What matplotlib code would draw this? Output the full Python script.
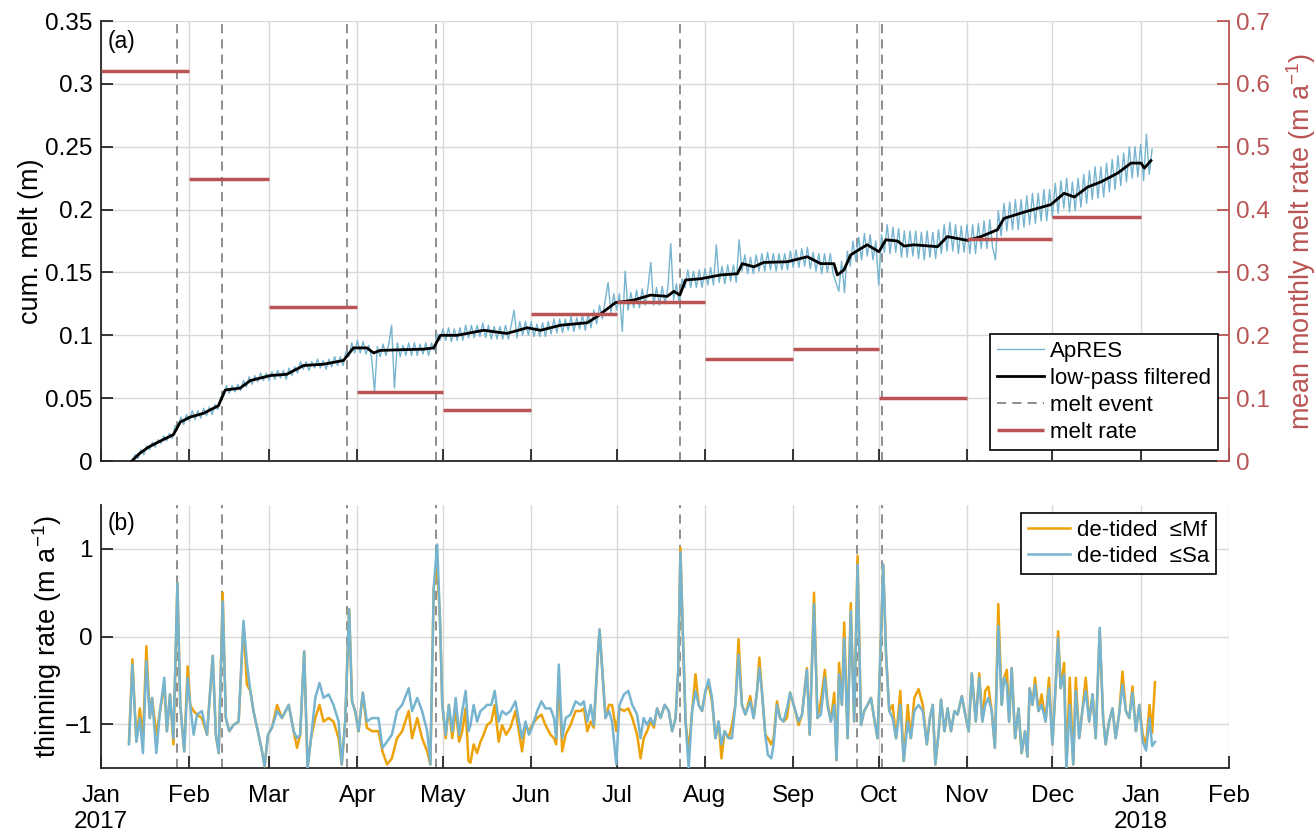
import numpy as np
import pandas as pd
import matplotlib
matplotlib.use('Agg')
import matplotlib.pyplot as plt

# ---- data (x in days since 1 Jan 2017) ----
# ApRES cumulative melt, resampled daily, starting day 11
apres_start = 11
apres_melt = [
    0.001, 0.005, 0.002, 0.009, 0.005, 0.012, 0.009, 0.015, 0.011, 0.017,
    0.014, 0.020, 0.016, 0.022, 0.018, 0.028, 0.027, 0.035, 0.029, 0.037,
    0.032, 0.040, 0.033, 0.040, 0.034, 0.042, 0.036, 0.043, 0.037, 0.045,
    0.041, 0.051, 0.052, 0.060, 0.054, 0.060, 0.055, 0.061, 0.056, 0.064,
    0.059, 0.067, 0.061, 0.068, 0.063, 0.070, 0.064, 0.070, 0.064, 0.071,
    0.065, 0.072, 0.066, 0.072, 0.065, 0.074, 0.068, 0.075, 0.070, 0.079,
    0.073, 0.079, 0.072, 0.079, 0.074, 0.081, 0.074, 0.080, 0.073, 0.081,
    0.075, 0.083, 0.076, 0.083, 0.076, 0.087, 0.083, 0.094, 0.086, 0.096,
    0.086, 0.095, 0.085, 0.092, 0.082, 0.055, 0.091, 0.083, 0.093, 0.084,
    0.093, 0.108, 0.058, 0.094, 0.083, 0.092, 0.084, 0.094, 0.084, 0.094,
    0.084, 0.093, 0.085, 0.094, 0.084, 0.094, 0.088, 0.101, 0.096, 0.105,
    0.096, 0.106, 0.095, 0.105, 0.096, 0.106, 0.096, 0.108, 0.098, 0.108,
    0.098, 0.108, 0.099, 0.110, 0.098, 0.108, 0.097, 0.107, 0.097, 0.107,
    0.097, 0.108, 0.097, 0.108, 0.120, 0.098, 0.111, 0.100, 0.111, 0.100,
    0.111, 0.099, 0.109, 0.099, 0.110, 0.099, 0.111, 0.101, 0.113, 0.102,
    0.113, 0.102, 0.113, 0.104, 0.115, 0.103, 0.114, 0.105, 0.116, 0.104,
    0.117, 0.106, 0.120, 0.109, 0.124, 0.113, 0.128, 0.142, 0.118, 0.133,
    0.120, 0.133, 0.103, 0.151, 0.120, 0.134, 0.122, 0.136, 0.122, 0.137,
    0.124, 0.138, 0.158, 0.124, 0.138, 0.124, 0.139, 0.125, 0.138, 0.173,
    0.128, 0.141, 0.125, 0.145, 0.138, 0.152, 0.138, 0.151, 0.138, 0.152,
    0.138, 0.153, 0.140, 0.154, 0.140, 0.172, 0.142, 0.155, 0.141, 0.156,
    0.143, 0.156, 0.142, 0.176, 0.151, 0.164, 0.149, 0.162, 0.149, 0.164,
    0.151, 0.165, 0.151, 0.166, 0.152, 0.165, 0.151, 0.165, 0.152, 0.165,
    0.152, 0.167, 0.154, 0.168, 0.154, 0.169, 0.155, 0.170, 0.153, 0.166,
    0.151, 0.165, 0.149, 0.165, 0.150, 0.165, 0.149, 0.142, 0.135, 0.159,
    0.134, 0.167, 0.155, 0.175, 0.159, 0.178, 0.160, 0.181, 0.163, 0.180,
    0.160, 0.175, 0.140, 0.180, 0.166, 0.188, 0.165, 0.186, 0.166, 0.185,
    0.162, 0.183, 0.162, 0.183, 0.163, 0.183, 0.161, 0.182, 0.160, 0.183,
    0.162, 0.182, 0.161, 0.184, 0.165, 0.188, 0.167, 0.190, 0.167, 0.188,
    0.165, 0.187, 0.166, 0.188, 0.165, 0.188, 0.165, 0.189, 0.169, 0.191,
    0.169, 0.192, 0.170, 0.160, 0.199, 0.179, 0.205, 0.183, 0.206, 0.184,
    0.208, 0.184, 0.208, 0.186, 0.211, 0.188, 0.213, 0.189, 0.213, 0.191,
    0.216, 0.191, 0.216, 0.194, 0.221, 0.197, 0.223, 0.201, 0.225, 0.198,
    0.222, 0.199, 0.225, 0.202, 0.228, 0.205, 0.231, 0.208, 0.234, 0.209,
    0.234, 0.210, 0.237, 0.214, 0.240, 0.216, 0.243, 0.219, 0.245, 0.222,
    0.250, 0.225, 0.250, 0.226, 0.252, 0.223, 0.260, 0.228, 0.248,
]

lp_days = [10.8, 13.5, 16.6, 20, 25.4, 27.8, 31.3, 36, 41.2, 43.6,
           48.8, 52.4, 59.4, 65.2, 71.1, 78.1, 85.1, 88.6, 93.3, 95.7,
           98, 105, 113.3, 116.8, 119.1, 125, 134.3, 142.5, 149.6, 154.3,
           161.3, 170.7, 174.2, 180.6, 187, 192.9, 198.8, 201.1, 203.2, 205.2,
           210.5, 217.5, 223.4, 225.1, 229.2, 232.7, 240.9, 248, 252.6, 257.3,
           258.5, 260.8, 263.2, 266.7, 269, 273.1, 275.5, 279.6, 281.9, 285.4,
           293.7, 297.1, 304.2, 308.9, 314.7, 317, 324.1, 333.5, 338.1, 341.7,
           346.4, 351, 356.9, 361.6, 365.1, 366.3, 368.6]
lp_melt = [0.000, 0.006, 0.011, 0.015, 0.021, 0.031, 0.035, 0.038, 0.044, 0.0565,
           0.058, 0.064, 0.068, 0.069, 0.076, 0.077, 0.080, 0.090, 0.090, 0.086,
           0.088, 0.0885, 0.089, 0.090, 0.100, 0.100, 0.104, 0.1015, 0.106, 0.104,
           0.108, 0.110, 0.115, 0.126, 0.128, 0.132, 0.131, 0.135, 0.132, 0.144,
           0.145, 0.148, 0.149, 0.157, 0.1545, 0.158, 0.1585, 0.1625, 0.157, 0.157,
           0.148, 0.152, 0.164, 0.169, 0.172, 0.1665, 0.176, 0.175, 0.171, 0.172,
           0.1705, 0.1785, 0.1755, 0.1785, 0.184, 0.193, 0.198, 0.204, 0.213, 0.210,
           0.218, 0.222, 0.229, 0.237, 0.237, 0.233, 0.239]

# mean monthly melt rate (m/a), Jan..Dec 2017
melt_rate = [0.620, 0.449, 0.245, 0.110, 0.081, 0.234,
             0.2525, 0.163, 0.178, 0.1007, 0.354, 0.389]

# melt events (days)
event_days = [26.5, 42.6, 86.5, 117.5, 203.2, 265.3, 274.2]

# thinning rate (m/a)
tr_days = [
    9.8, 11.0, 12.4, 13.6, 14.7, 15.9, 17.1, 17.9, 19.4, 20.7,
    22.2, 23.1, 24.2, 25.4, 26.8, 27.8, 29.2, 30.4, 31.3, 32.5,
    33.7, 35.4, 37.2, 39.2, 40.3, 41.3, 42.7, 43.8, 45.0, 46.5,
    48.3, 50.0, 51.2, 52.4, 53.5, 55.3, 56.5, 57.4, 58.6, 60.0,
    61.8, 63.5, 65.9, 67.6, 68.8, 69.9, 71.3, 72.5, 73.7, 75.2,
    76.7, 78.1, 79.9, 81.6, 83.4, 84.5, 85.7, 87.1, 88.1, 89.2,
    90.4, 91.9, 93.3, 95.1, 97.4, 98.8, 100.4, 102.1, 103.9, 105.7,
    108.0, 109.2, 111.0, 112.7, 114.5, 115.6, 116.8, 118.0, 119.0, 119.8,
    121.0, 122.1, 123.3, 124.5, 125.7, 126.8, 128.0, 129.0, 129.7, 130.8,
    132.0, 133.2, 134.3, 135.5, 137.0, 138.2, 139.6, 140.8, 142.2, 143.7,
    145.5, 146.7, 147.8, 149.0, 150.2, 151.3, 153.1, 154.6, 156.0, 157.8,
    159.0, 159.8, 160.7, 161.9, 163.1, 164.8, 166.6, 168.4, 169.5, 170.7,
    171.9, 173.0, 174.2, 175.0, 176.0, 177.1, 178.3, 179.4, 180.9, 182.0,
    183.6, 185.1, 186.5, 188.2, 189.4, 190.5, 191.7, 192.9, 194.1, 195.2,
    196.4, 197.9, 199.3, 200.5, 201.7, 202.6, 203.4, 204.3, 205.2, 206.3,
    207.5, 208.7, 209.8, 211.0, 212.2, 213.3, 214.5, 215.7, 216.8, 217.8,
    218.9, 220.3, 221.5, 222.7, 223.8, 225.0, 226.2, 227.9, 229.1, 230.3,
    231.1, 232.0, 233.2, 234.1, 235.3, 236.1, 237.3, 238.4, 239.6, 240.8,
    241.9, 243.5, 244.9, 246.1, 247.8, 248.8, 250.3, 251.5, 252.7, 254.1,
    255.0, 256.2, 257.4, 258.2, 259.1, 260.1, 260.9, 262.1, 263.2, 264.4,
    265.6, 266.8, 267.9, 269.1, 270.3, 271.4, 272.6, 273.8, 274.6, 275.6,
    276.7, 277.9, 279.1, 280.6, 281.8, 283.2, 284.3, 285.5, 287.0, 288.5,
    289.9, 291.0, 292.0, 292.9, 294.1, 294.9, 296.1, 297.2, 298.4, 299.6,
    300.7, 302.2, 303.4, 304.6, 305.7, 307.1, 308.3, 309.4, 310.4, 311.5,
    312.7, 313.8, 315.0, 316.2, 317.0, 318.0, 318.8, 319.7, 320.9, 322.1,
    323.2, 324.4, 325.2, 326.0, 327.0, 327.9, 329.1, 330.2, 331.6, 332.8,
    334.0, 334.9, 336.0, 336.9, 338.1, 338.9, 340.1, 341.3, 342.2, 343.4,
    344.5, 345.7, 346.9, 348.1, 349.2, 350.6, 351.8, 352.7, 353.9, 355.1,
    356.2, 357.4, 358.6, 359.8, 361.0, 362.1, 363.3, 364.5, 365.7, 366.9,
    368.1, 369.0, 370.0,
]
tr_mf = [
    -1.20, -0.26, -1.20, -0.82, -1.16, -0.11, -0.93, -0.70, -1.12, -0.85,
    -0.55, -1.08, -0.66, -1.23, 0.61, -0.78, -1.31, -0.34, -0.78, -0.85,
    -0.89, -0.93, -1.12, -0.22, -1.12, -1.33, 0.50, -0.93, -1.08, -1.01,
    -0.97, 0.14, -0.55, -0.62, -0.85, -1.12, -1.31, -1.48, -1.12, -1.04,
    -0.78, -0.93, -0.78, -1.08, -1.27, -1.12, -0.17, -1.50, -1.16, -0.93,
    -0.78, -0.97, -0.93, -0.97, -1.16, -1.46, -0.97, 0.31, -0.74, -0.85,
    -1.08, -0.64, -1.04, -1.08, -1.08, -1.31, -1.46, -1.39, -1.16, -1.08,
    -0.85, -1.16, -0.93, -1.16, -1.31, -1.46, 0.56, 0.80, 0.18, -0.78,
    -1.16, -0.78, -1.16, -0.82, -1.20, -1.08, -0.82, -1.42, -1.44, -1.23,
    -1.33, -1.20, -1.12, -1.01, -0.97, -0.78, -1.20, -1.01, -1.12, -1.04,
    -0.85, -1.08, -1.31, -1.01, -1.08, -1.01, -0.93, -0.89, -1.01, -1.12,
    -1.16, -1.23, -0.47, -1.31, -1.12, -1.01, -0.85, -0.85, -0.82, -1.08,
    -0.97, -1.04, -0.32, 0.08, -0.40, -0.93, -0.78, -0.78, -1.08, -0.82,
    -0.85, -0.82, -0.93, -1.12, -1.39, -1.16, -1.08, -0.97, -1.04, -0.82,
    -0.93, -0.78, -0.85, -1.08, -0.93, -0.40, 1.01, -0.02, -0.97, -1.31,
    -0.85, -0.43, -0.78, -0.85, -0.62, -0.55, -0.74, -1.16, -0.97, -1.39,
    -1.08, -1.16, -1.01, -0.78, -0.03, -0.78, -0.89, -0.68, -0.93, -0.62,
    -0.24, -0.62, -1.12, -1.16, -1.23, -1.16, -0.74, -0.93, -0.97, -0.93,
    -0.64, -0.82, -1.01, -0.89, -0.36, -1.12, 0.50, -0.93, -0.74, -0.38,
    -0.74, -0.97, -0.64, -1.41, -0.30, -0.78, 0.16, -1.16, 0.38, -0.97,
    0.92, -1.01, -0.85, -0.78, -0.70, -0.93, -1.16, -0.02, 0.82, -0.21,
    -0.85, -0.78, -1.16, -0.62, -1.42, -0.78, -1.16, -0.70, -0.60, -0.78,
    -1.23, -0.93, -0.78, -1.46, -1.08, -0.72, -1.08, -0.82, -1.08, -0.85,
    -0.89, -0.68, -0.89, -1.08, -0.42, -0.97, -0.42, -0.97, -0.62, -0.57,
    -0.85, -1.27, 0.37, -0.78, -0.47, -0.38, -0.97, -0.36, -1.16, -0.82,
    -1.33, -1.08, -1.37, -0.59, -0.78, -0.47, -0.85, -0.66, -0.97, -0.47,
    -1.23, -0.70, 0.06, -0.59, -0.30, -1.50, -0.47, -1.46, -0.47, -1.16,
    -0.85, -0.47, -0.97, -0.66, -1.16, 0.06, -0.93, -1.23, -0.97, -0.82,
    -1.16, -0.89, -0.40, -0.85, -0.93, -0.57, -1.08, -0.78, -1.12, -1.23,
    -0.78, -1.10, -0.52,
]
tr_sa = [
    -1.23, -0.32, -1.20, -0.93, -1.33, -0.28, -0.93, -0.70, -1.33, -0.85,
    -0.47, -1.08, -0.66, -1.16, 0.61, -0.78, -1.31, -0.47, -0.78, -1.12,
    -0.89, -0.85, -1.12, -0.22, -1.12, -1.33, 0.40, -0.93, -1.08, -1.01,
    -0.97, 0.18, -0.30, -0.62, -0.85, -1.12, -1.31, -1.48, -1.12, -1.04,
    -0.85, -0.93, -0.78, -1.08, -1.16, -1.12, -0.17, -1.50, -1.16, -0.70,
    -0.53, -0.70, -0.66, -0.78, -0.97, -1.46, -0.97, 0.31, -0.74, -0.85,
    -1.08, -0.64, -0.97, -0.93, -0.93, -1.27, -1.20, -1.12, -0.85, -0.78,
    -0.59, -0.85, -0.70, -0.85, -1.08, -1.46, 0.56, 1.05, 0.18, -0.78,
    -1.12, -0.78, -1.08, -0.70, -1.12, -0.85, -0.62, -1.08, -1.01, -0.78,
    -0.97, -0.85, -0.82, -0.78, -0.78, -0.62, -0.97, -0.85, -0.89, -0.85,
    -0.74, -0.97, -1.16, -0.97, -1.12, -1.04, -0.85, -0.74, -0.82, -0.82,
    -0.93, -1.16, -0.32, -1.16, -0.93, -0.89, -0.74, -0.78, -0.74, -0.97,
    -0.78, -1.01, -0.32, 0.08, -0.40, -0.93, -0.85, -0.97, -1.46, -0.78,
    -0.66, -0.62, -0.78, -0.89, -1.16, -0.93, -1.01, -0.93, -1.01, -0.82,
    -0.93, -0.78, -0.85, -1.08, -0.93, -0.40, 0.96, -0.02, -0.97, -1.50,
    -0.85, -0.62, -0.78, -0.85, -0.62, -0.49, -0.70, -1.16, -0.97, -1.23,
    -1.08, -1.16, -1.16, -0.78, -0.21, -0.78, -0.89, -0.74, -0.93, -0.62,
    -0.36, -0.62, -1.12, -1.35, -1.39, -1.23, -0.78, -0.93, -0.97, -0.82,
    -0.64, -0.82, -0.97, -0.89, -0.38, -1.12, 0.37, -0.93, -0.89, -0.47,
    -0.78, -0.97, -0.78, -1.41, -0.43, -0.78, -0.02, -1.16, 0.29, -0.97,
    0.82, -1.01, -0.85, -0.78, -0.70, -0.93, -1.16, -0.02, 0.82, -0.21,
    -0.85, -0.93, -1.16, -0.78, -1.42, -0.97, -1.16, -0.85, -0.78, -0.85,
    -1.23, -0.93, -0.78, -1.46, -1.08, -0.72, -1.08, -0.82, -1.08, -0.85,
    -0.89, -0.68, -0.89, -1.08, -0.42, -0.97, -0.47, -0.97, -0.78, -0.70,
    -0.85, -1.27, 0.12, -0.78, -0.47, -0.55, -0.97, -0.36, -1.16, -0.82,
    -1.33, -1.08, -1.37, -0.59, -0.78, -0.55, -0.85, -0.78, -0.97, -0.59,
    -1.23, -0.70, -0.02, -0.59, -0.43, -1.50, -0.78, -1.46, -0.62, -1.16,
    -0.85, -0.62, -0.97, -0.66, -1.16, 0.10, -0.93, -1.23, -0.97, -0.82,
    -1.16, -0.89, -0.55, -0.85, -0.93, -0.64, -1.08, -0.78, -1.20, -1.30,
    -0.93, -1.25, -1.20,
]

month_names = ['Jan\n2017', 'Feb', 'Mar', 'Apr', 'May', 'Jun', 'Jul',
               'Aug', 'Sep', 'Oct', 'Nov', 'Dec', 'Jan\n2018', 'Feb']

# ---- styling ----
plt.rcParams['font.family'] = ['Liberation Sans', 'DejaVu Sans']
plt.rcParams['mathtext.fontset'] = 'custom'
plt.rcParams['mathtext.rm'] = 'Liberation Sans'
plt.rcParams['mathtext.default'] = 'regular'
TICK_FS = 17.5
LABEL_FS = 19.5
LEG_FS = 16
BLUE = '#76B4CF'
ORANGE = '#EDA20A'
RED = '#B95454'
GREY = '#707070'
AXC = '#262626'

t0 = pd.Timestamp('2017-01-01')
months = pd.date_range('2017-01-01', '2018-02-01', freq='MS')
month_days = np.asarray((months - t0).days, dtype=float)
apres_days = np.arange(apres_start, apres_start + len(apres_melt))

fig = plt.figure(figsize=(13.16, 8.34), dpi=100)
ax = fig.add_axes([0.0768, 0.4472, 0.8571, 0.5276])
axb = fig.add_axes([0.0768, 0.0791, 0.8571, 0.3154])


def style(a):
    a.set_xlim(0, month_days[-1])
    a.set_xticks(month_days)
    a.grid(True, color='#d9d9d9', lw=1)
    a.set_axisbelow(True)
    for s in ['top', 'right']:
        a.spines[s].set_visible(False)
    for s in ['left', 'bottom']:
        a.spines[s].set_color(AXC)
        a.spines[s].set_linewidth(1.3)
    a.tick_params(direction='in', length=8.5, width=1.3, colors=AXC,
                  labelcolor='black', labelsize=TICK_FS)
    a.tick_params(axis='y', pad=6)
    a.tick_params(axis='x', pad=12)


# ---- panel (a) ----
style(ax)
ax.set_ylim(0, 0.35)
ax.set_yticks(np.arange(0, 0.351, 0.05))
ax.set_yticklabels(['0', '0.05', '0.1', '0.15', '0.2', '0.25', '0.3', '0.35'])
ax.tick_params(axis='x', labelbottom=False)
for i, d in enumerate(event_days):
    ax.axvline(d, color=GREY, lw=1.1, ls=(0, (6, 4)),
               label='melt event' if i == 0 else None, zorder=2)
h_ap, = ax.plot(apres_days, apres_melt, color=BLUE, lw=1.0, zorder=3, label='ApRES')
h_lp, = ax.plot(lp_days, lp_melt, color='black', lw=2, zorder=4,
                label='low-pass filtered')
ax.set_ylabel('cum. melt (m)', fontsize=LABEL_FS, labelpad=1)
ax.text(0.006, 0.98, '(a)', transform=ax.transAxes, ha='left', va='top',
        fontsize=LEG_FS + 0.5)

ax2 = ax.twinx()
ax2.set_ylim(0, 0.7)
ax2.set_yticks(np.arange(0, 0.71, 0.1))
ax2.set_yticklabels(['0', '0.1', '0.2', '0.3', '0.4', '0.5', '0.6', '0.7'])
for s in ['top', 'left', 'bottom']:
    ax2.spines[s].set_visible(False)
ax2.spines['right'].set_color(RED)
ax2.spines['right'].set_linewidth(1.3)
ax2.tick_params(direction='in', length=8.5, width=1.3, colors=RED,
                labelsize=TICK_FS, pad=5)
h_mr = ax2.hlines(melt_rate, month_days[:12], month_days[1:13], color=RED,
                  lw=2.5, label='melt rate')
ax2.set_ylabel('mean monthly melt rate (m a$^{-1}$)', color=RED,
               fontsize=LABEL_FS, labelpad=10)

handles = [h_ap, h_lp, ax.get_lines()[0], h_mr]
leg = ax2.legend(handles, ['ApRES', 'low-pass filtered', 'melt event', 'melt rate'],
                 loc='lower right', fontsize=LEG_FS, frameon=True, fancybox=False,
                 edgecolor='black', framealpha=1, borderaxespad=0.5,
                 handlelength=2.1, handletextpad=0.3, labelspacing=0.28,
                 borderpad=0.3)
leg.get_frame().set_linewidth(1.2)

# ---- panel (b) ----
style(axb)
axb.set_ylim(-1.5, 1.5)
axb.set_yticks([-1, 0, 1])
axb.set_xticklabels(month_names, linespacing=1.25)
for d in event_days:
    axb.axvline(d, color=GREY, lw=1.1, ls=(0, (6, 4)), zorder=2)
axb.plot(tr_days, tr_mf, color=ORANGE, lw=1.8, zorder=3, label='de-tided  \u2264Mf')
axb.plot(tr_days, tr_sa, color=BLUE, lw=1.8, zorder=4, label='de-tided  \u2264Sa')
axb.set_ylabel('thinning rate (m a$^{-1}$)', fontsize=LABEL_FS, labelpad=1)
axb.text(0.006, 0.975, '(b)', transform=axb.transAxes, ha='left', va='top',
         fontsize=LEG_FS + 0.5)
leg2 = axb.legend(loc='upper right', bbox_to_anchor=(0.9885, 0.97),
                  fontsize=LEG_FS, frameon=True, fancybox=False,
                  edgecolor='black', framealpha=1, borderaxespad=0,
                  handlelength=1.9, handletextpad=0.3, labelspacing=0.25,
                  borderpad=0.3)
leg2.get_frame().set_linewidth(1.2)

fig.savefig('out.png', dpi=100)
